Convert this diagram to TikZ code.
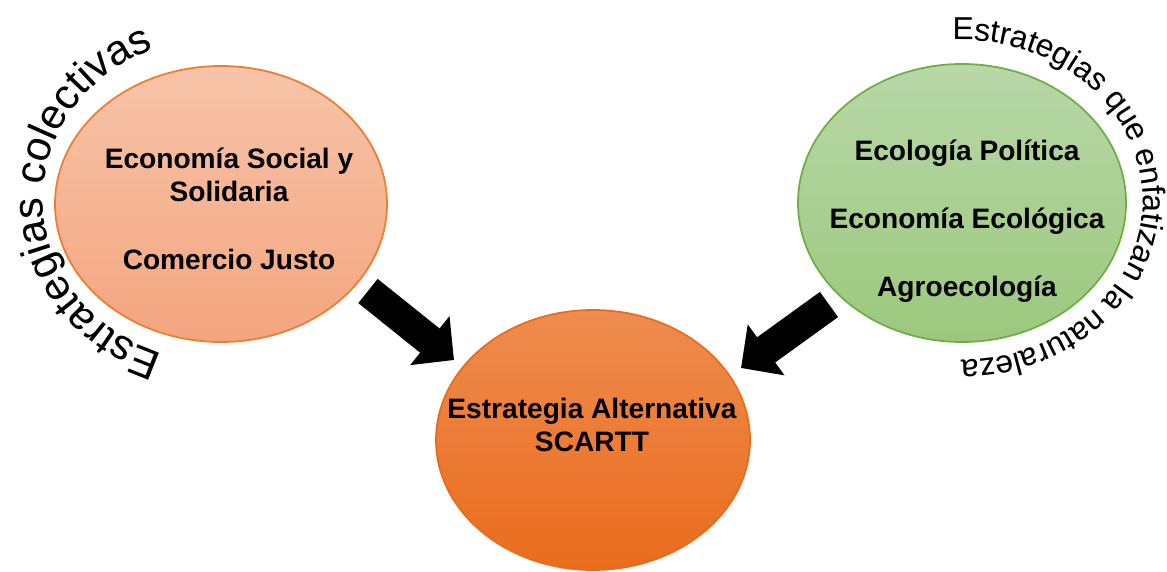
\documentclass[tikz,border=0pt]{standalone}
\usepackage{fontspec}
\setmainfont{Liberation Sans}
\usetikzlibrary{positioning}
\usetikzlibrary{shapes.geometric}
\usetikzlibrary{arrows.meta}
\usetikzlibrary{decorations.text}

\definecolor{salmonBorde}{HTML}{ED7D31}
\definecolor{salmonArriba}{HTML}{F7C4A9}
\definecolor{salmonAbajo}{HTML}{F4A57F}
\definecolor{verdeBorde}{HTML}{70AD47}
\definecolor{verdeArriba}{HTML}{B8D8A8}
\definecolor{verdeAbajo}{HTML}{9BC87D}
\definecolor{naranjaArriba}{HTML}{EF8C50}
\definecolor{naranjaAbajo}{HTML}{E96C1C}

\begin{document}
\begin{tikzpicture}[
    circulo/.style={draw, ellipse, line width=0.5pt, inner sep=0pt},
    texto/.style={font=\fontsize{8}{9.4}\selectfont\bfseries, align=center},
    flecha/.style={line width=0.31cm, -{Triangle[length=0.31cm, width=0.61cm]}},
    curva/.style={decorate, decoration={text along path, text align=fit to path, text={#1}}},
  ]
  \useasboundingbox (0,0) rectangle (11.67,5.71);

  % Elipses
  \node[circulo, draw=salmonBorde, top color=salmonArriba, bottom color=salmonAbajo,
        minimum width=3.32cm, minimum height=2.76cm] (colectivas) at (2.21,3.67) {};
  \node[circulo, draw=verdeBorde, top color=verdeArriba, bottom color=verdeAbajo,
        minimum width=3.28cm, minimum height=2.78cm] (naturaleza) at (9.62,3.68) {};
  \node[circulo, draw=naranjaAbajo, top color=naranjaArriba, bottom color=naranjaAbajo,
        minimum width=3.14cm, minimum height=2.60cm] (scartt) at (5.93,1.31) {};

  % Textos
  \node[texto] (tcolectivas) at (2.29,3.62) {Economía Social y\\Solidaria\\[9.9pt]Comercio Justo};
  \node[texto] (tnaturaleza) at (9.67,3.50) {Ecología Política\\[9.9pt]Economía Ecológica\\[9.9pt]Agroecología};
  \node[texto] (tscartt) at (5.92,1.46) {Estrategia Alternativa\\SCARTT};

  % Flechas
  \coordinate (f1a) at (3.68,2.80);
  \coordinate (f1b) at (4.54,2.11);
  \coordinate (f2a) at (8.29,2.665);
  \coordinate (f2b) at (7.41,2.03);
  \draw[flecha] (f1a) -- (f1b);
  \draw[flecha] (f2a) -- (f2b);

  % Textos curvos (sombra y texto)
  \coordinate (ccol) at (2.21,3.71);
  \coordinate (cnat) at (9.62,3.71);
  \path[curva={|\color{black!35}\fontsize{12}{12}\selectfont|Estrategias colectivas}, xshift=0.35mm, yshift=-0.35mm]
    ([shift={(251:1.78 and 1.63)}]ccol) arc[start angle=251, end angle=112, x radius=1.78, y radius=1.63];
  \path[curva={|\fontsize{12}{12}\selectfont|Estrategias colectivas}]
    ([shift={(251:1.78 and 1.63)}]ccol) arc[start angle=251, end angle=112, x radius=1.78, y radius=1.63];
  \path[curva={|\color{black!35}\fontsize{9}{9}\selectfont|Estrategias que enfatizan la naturaleza}, xshift=0.3mm, yshift=-0.3mm]
    ([shift={(93:1.81 and 1.60)}]cnat) arc[start angle=93, end angle=-90, x radius=1.81, y radius=1.60];
  \path[curva={|\fontsize{9}{9}\selectfont|Estrategias que enfatizan la naturaleza}]
    ([shift={(93:1.81 and 1.60)}]cnat) arc[start angle=93, end angle=-90, x radius=1.81, y radius=1.60];
\end{tikzpicture}
\end{document}
